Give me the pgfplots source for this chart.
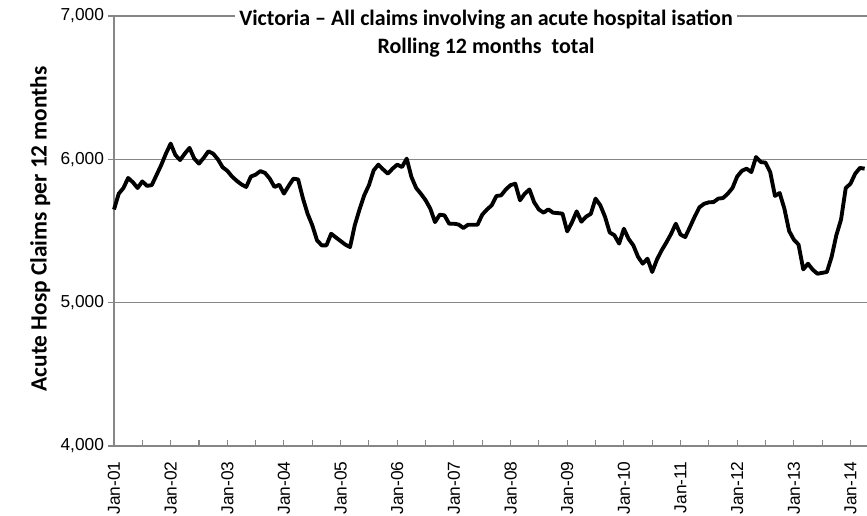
\documentclass[border=0pt]{standalone}
\usepackage{fontspec}
\setmainfont{Carlito}
\newfontfamily\arialfont{Liberation Sans}
\usepackage{pgfplots}
\usepackage{pgfplotstable}
\pgfplotsset{compat=1.18}
\definecolor{gridgray}{RGB}{134,134,134}
\pgfplotstableread{
m v
0 5650
1 5760
2 5800
3 5870
4 5840
5 5800
6 5846
7 5815
8 5820
9 5890
10 5960
11 6040
12 6110
13 6030
14 5995
15 6040
16 6080
17 6005
18 5970
19 6010
20 6056
21 6040
22 6000
23 5945
24 5920
25 5880
26 5850
27 5825
28 5807
29 5880
30 5893
31 5918
32 5905
33 5865
34 5807
35 5823
36 5761
37 5815
38 5865
39 5860
40 5730
41 5621
42 5540
43 5435
44 5400
45 5400
46 5481
47 5455
48 5430
49 5405
50 5388
51 5540
52 5650
53 5749
54 5820
55 5923
56 5963
57 5930
58 5900
59 5935
60 5963
61 5946
62 6005
63 5877
64 5800
65 5760
66 5715
67 5656
68 5562
69 5614
70 5609
71 5551
72 5551
73 5545
74 5521
75 5544
76 5544
77 5544
78 5614
79 5650
80 5679
81 5744
82 5749
83 5790
84 5820
85 5830
86 5714
87 5760
88 5790
89 5700
90 5650
91 5628
92 5651
93 5628
94 5625
95 5621
96 5497
97 5560
98 5637
99 5565
100 5600
101 5620
102 5726
103 5680
104 5600
105 5490
106 5470
107 5412
108 5516
109 5445
110 5400
111 5320
112 5272
113 5307
114 5214
115 5300
116 5365
117 5420
118 5480
119 5551
120 5475
121 5458
122 5528
123 5600
124 5665
125 5690
126 5700
127 5702
128 5726
129 5730
130 5760
131 5800
132 5880
133 5920
134 5935
135 5911
136 6016
137 5981
138 5977
139 5911
140 5745
141 5765
142 5656
143 5500
144 5440
145 5405
146 5232
147 5272
148 5230
149 5202
150 5208
151 5214
152 5319
153 5470
154 5580
155 5800
156 5830
157 5900
158 5940
159 5935
}\claims
\begin{document}
\begin{tikzpicture}
\path[use as bounding box] (-85.5pt,-51.75pt) rectangle (564.75pt,334.5pt);
\begin{axis}[
  at={(0pt,0pt)}, anchor=south west,
  width=564.75pt, height=322.5pt, scale only axis,
  clip=false,
  xmin=0, xmax=159.5, ymin=4000, ymax=7000,
  axis x line*=bottom, axis y line*=left,
  axis line style={gridgray, line width=0.8pt},
  xtick={0,12,...,156},
  xticklabels={Jan-01,Jan-02,Jan-03,Jan-04,Jan-05,Jan-06,Jan-07,Jan-08,Jan-09,Jan-10,Jan-11,Jan-12,Jan-13,Jan-14},
  minor xtick={6,18,...,150},
  ytick={4000,5000,6000,7000},
  ymajorgrids,
  major grid style={gridgray, line width=0.8pt},
  tick align=inside,
  major tick length=4.5pt, minor tick length=4.5pt,
  xtick style={gridgray, line width=0.8pt},
  minor tick style={gridgray, line width=0.8pt},
  ytick style={gridgray, line width=0.8pt, xshift=-4.5pt},
  /pgf/number format/1000 sep={,},
  /pgf/number format/assume math mode=true,
  tick label style={font=\arialfont\fontsize{13}{15}\selectfont, black},
  xticklabel style={rotate=90, anchor=east, xshift=-8pt},
  yticklabel style={anchor=east, xshift=-4pt},
  ylabel={Acute Hosp Claims per 12 months},
  ylabel style={at={(axis description cs:-0.098,0.505)}, anchor=center, font=\bfseries\fontsize{17.5}{20}\selectfont},
]
\addplot[black, line width=2.9pt, line join=round] table[x=m, y=v] {\claims};
\node[fill=white, align=center, inner xsep=3pt, inner ysep=1pt, font=\bfseries\fontsize{16.5}{21}\selectfont]
  at (rel axis cs:0.494,0.958) {Victoria – All claims involving an acute hospital isation\\Rolling 12 months\ \ total};
\end{axis}
\end{tikzpicture}
\end{document}
